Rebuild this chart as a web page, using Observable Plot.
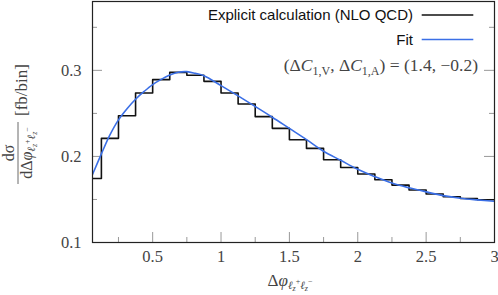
<!DOCTYPE html>
<html><head><meta charset="utf-8">
<script src="https://cdn.jsdelivr.net/npm/d3@7"></script>
<script src="https://cdn.jsdelivr.net/npm/@observablehq/plot@0.6"></script>
<style>body{margin:0;background:#fff} #chart{position:relative;width:498px;height:295px}</style>
</head><body><div id="chart"></div>
<script>
// histogram bins (left edges) and heights
const binLeft = [0, 0.125, 0.25, 0.375, 0.5, 0.625, 0.75, 0.875, 1.0, 1.125, 1.25, 1.375,
                 1.5, 1.625, 1.75, 1.875, 2.0, 2.125, 2.25, 2.375, 2.5, 2.625, 2.75, 2.875];
const histEnd = 3;
const histValues = [0.1744, 0.221, 0.2473, 0.2737, 0.2892, 0.2977, 0.2944, 0.2872, 0.2737, 0.261, 0.2462, 0.2326,
                    0.2194, 0.2093, 0.1962, 0.1872, 0.1795, 0.1729, 0.1667, 0.161, 0.1563, 0.1531, 0.1512, 0.1497];
// fit curve samples
const fitX = [0.06, 0.125, 0.1875, 0.25, 0.3125, 0.375, 0.4375, 0.5, 0.5625, 0.625, 0.6875, 0.75, 0.8125, 0.875,
              1.0, 1.125, 1.25, 1.375, 1.5, 1.625, 1.75, 1.875, 2.0, 2.125, 2.25, 2.375, 2.5, 2.625, 2.75, 2.875, 3.0];
const fitY = [0.179, 0.203, 0.225, 0.2425, 0.2555, 0.2665, 0.2755, 0.2835, 0.2895, 0.2945, 0.2978, 0.2985, 0.2965, 0.2938,
              0.2822, 0.2703, 0.258, 0.2455, 0.2325, 0.2195, 0.206, 0.1955, 0.185, 0.1765, 0.169, 0.1635, 0.1588, 0.1545, 0.1515, 0.1495, 0.1478];
const xMajorTicks = [0.5, 1, 1.5, 2, 2.5, 3];
const xMinorTicks = [0.25, 0.75, 1.25, 1.75, 2.25, 2.75];
const yMajorTicks = [0.1, 0.2, 0.3];
const yMinorTicks = [0.15, 0.25, 0.35];
const legendLabels = ["Explicit calculation (NLO QCD)", "Fit"];
const legendColors = ["#111111", "#3b6fe6"];

const histData = binLeft.map((x, i) => ({x, y: histValues[i]}))
  .concat([{x: histEnd, y: histValues[histValues.length - 1]}]);
const fitData = fitX.map((x, i) => ({x, y: fitY[i]}));

const W = 498, H = 295, mL = 92, mR = 4, mT = 1, mB = 53;
const innerH = H - mT - mB, innerW = W - mL - mR;
const tickColor = "#999";
const fmt = d => String(d);

const plot = Plot.plot({
  width: W, height: H, marginLeft: mL, marginRight: mR, marginTop: mT, marginBottom: mB,
  x: {domain: [0.06, 3], axis: null},
  y: {domain: [0.1, 0.38], axis: null},
  style: {fontFamily: "'Liberation Serif', serif", fontSize: "16.5px", color: "#444", background: "white"},
  marks: [
    Plot.ruleX(xMajorTicks, {x: d => d, insetTop: innerH - 10, stroke: tickColor}),
    Plot.ruleX(xMinorTicks, {x: d => d, insetTop: innerH - 5, stroke: tickColor}),
    Plot.ruleY(yMajorTicks, {y: d => d, insetRight: innerW - 10, stroke: tickColor}),
    Plot.ruleY(yMinorTicks, {y: d => d, insetRight: innerW - 5, stroke: tickColor}),
    Plot.ruleY(yMajorTicks, {y: d => d, insetLeft: innerW - 10, stroke: tickColor}),
    Plot.ruleY(yMinorTicks, {y: d => d, insetLeft: innerW - 5, stroke: tickColor}),
    Plot.axisX({ticks: xMajorTicks, tickFormat: fmt, tickSize: 0, tickPadding: 8, label: null}),
    Plot.axisY({ticks: yMajorTicks, tickFormat: fmt, tickSize: 0, tickPadding: 11, label: null}),
    Plot.line(histData, {x: "x", y: "y", curve: "step-after", stroke: legendColors[0], strokeWidth: 1.6, clip: true}),
    Plot.line(fitData, {x: "x", y: "y", curve: "catmull-rom", stroke: legendColors[1], strokeWidth: 1.6, clip: true}),
    Plot.frame({stroke: "#222", strokeWidth: 1.2})
  ]
});
document.getElementById("chart").appendChild(plot);

const svg = d3.select(plot);
// legend
const lg = svg.append("g").attr("font-family", "'Liberation Sans', sans-serif").attr("font-size", 15).attr("fill", "#111");
[[19.5, 15], [44.5, 39.5]].forEach(([ty, ly], i) => {
  lg.append("text").attr("x", 413).attr("y", ty).attr("text-anchor", "end").text(legendLabels[i]);
  lg.append("line").attr("x1", 421.7).attr("x2", 473.3).attr("y1", ly).attr("y2", ly)
    .attr("stroke", legendColors[i]).attr("stroke-width", 1.6);
});
// parameter annotation
const ann = svg.append("text").attr("x", 478).attr("y", 71).attr("text-anchor", "end")
  .attr("font-family", "'Liberation Serif', serif").attr("font-size", 17.5).attr("fill", "#444");
ann.append("tspan").text("(Δ");
ann.append("tspan").attr("font-style", "italic").text("C");
ann.append("tspan").attr("font-size", 12).attr("dy", 4).text("1,V");
ann.append("tspan").attr("dy", -4).text(", Δ");
ann.append("tspan").attr("font-style", "italic").text("C");
ann.append("tspan").attr("font-size", 12).attr("dy", 4).text("1,A");
ann.append("tspan").attr("dy", -4).text(") = (1.4, −0.2)");

function addPhiSub(t) {
  t.append("tspan").attr("font-style", "italic").text("φ");
  t.append("tspan").attr("font-style", "italic").attr("font-size", 11).attr("dy", 3).text("ℓ");
  t.append("tspan").attr("font-style", "italic").attr("font-size", 8).attr("dy", 2).text("z");
  t.append("tspan").attr("font-size", 8).attr("dy", -7).text("+");
  t.append("tspan").attr("font-style", "italic").attr("font-size", 11).attr("dy", 5).text("ℓ");
  t.append("tspan").attr("font-style", "italic").attr("font-size", 8).attr("dy", 2).text("z");
  t.append("tspan").attr("font-size", 8).attr("dy", -7).text("−");
}
// x label
const xl = svg.append("text").attr("x", 290).attr("y", 286).attr("text-anchor", "middle")
  .attr("font-family", "'Liberation Serif', serif").attr("font-size", 17).attr("fill", "#444");
xl.append("tspan").text("Δ");
addPhiSub(xl);
// y label
const yg = svg.append("g").attr("transform", "translate(18,153) rotate(-90)")
  .attr("font-family", "'Liberation Serif', serif").attr("font-size", 16).attr("fill", "#444");
yg.append("text").attr("x", 0).attr("y", -4).attr("text-anchor", "middle").text("dσ");
yg.append("line").attr("x1", -31).attr("x2", 31).attr("y1", 0).attr("y2", 0).attr("stroke", "#444").attr("stroke-width", 0.8);
const den = yg.append("text").attr("x", 0).attr("y", 14).attr("text-anchor", "middle");
den.append("tspan").text("dΔ");
addPhiSub(den);
svg.append("text").attr("transform", "translate(22,90) rotate(-90)").attr("y", 5).attr("text-anchor", "middle")
  .attr("font-family", "'Liberation Serif', serif").attr("font-size", 17).attr("fill", "#444").text("[fb/bin]");
</script></body></html>
